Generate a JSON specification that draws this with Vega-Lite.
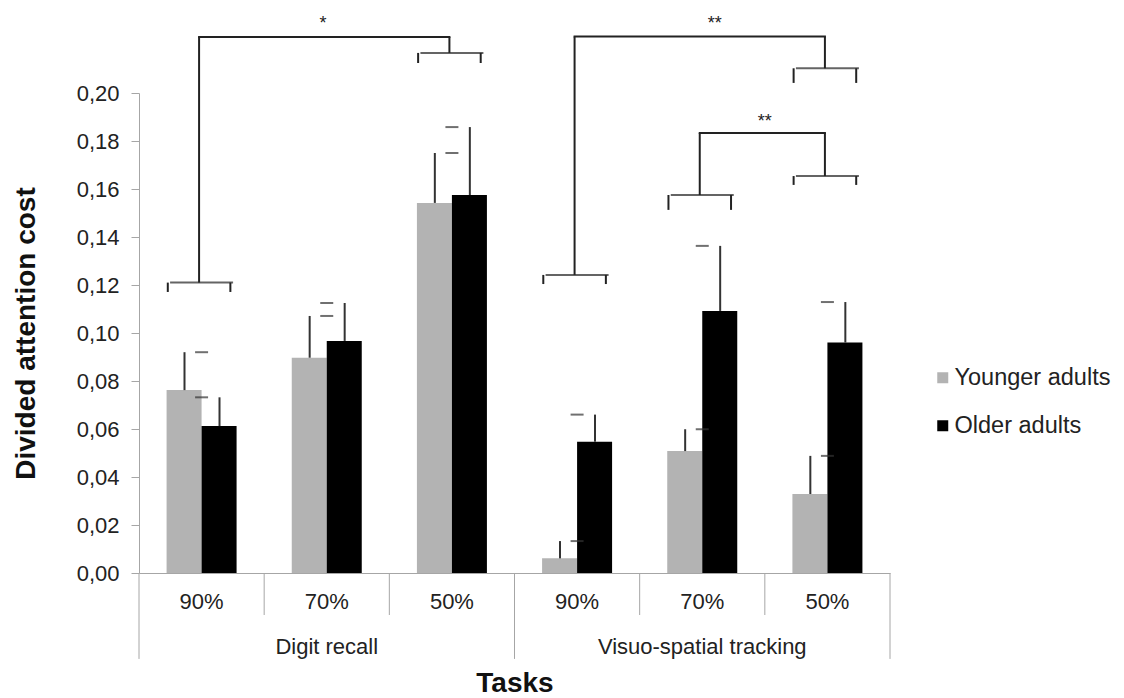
{
  "$schema": "https://vega.github.io/schema/vega-lite/v6.json",
  "width": 751,
  "height": 480,
  "padding": {"left": 12, "top": 14, "right": 5, "bottom": 5},
  "background": "white",
  "config": {
    "font": "Liberation Sans",
    "view": {"stroke": null},
    "axis": {"grid": false},
    "locale": {"number": {"decimal": ",", "thousands": ".", "grouping": [3], "currency": ["", " €"]}}
  },
  "datasets": {
    "costs": [
      {"condition": "Digit recall 90%", "group": "Younger adults", "value": 0.0762, "hi": 0.0920},
      {"condition": "Digit recall 90%", "group": "Older adults", "value": 0.0612, "hi": 0.0732},
      {"condition": "Digit recall 70%", "group": "Younger adults", "value": 0.0897, "hi": 0.1071},
      {"condition": "Digit recall 70%", "group": "Older adults", "value": 0.0967, "hi": 0.1125},
      {"condition": "Digit recall 50%", "group": "Younger adults", "value": 0.1542, "hi": 0.1750},
      {"condition": "Digit recall 50%", "group": "Older adults", "value": 0.1575, "hi": 0.1858},
      {"condition": "Visuo-spatial tracking 90%", "group": "Younger adults", "value": 0.0061, "hi": 0.0133},
      {"condition": "Visuo-spatial tracking 90%", "group": "Older adults", "value": 0.0547, "hi": 0.0660},
      {"condition": "Visuo-spatial tracking 70%", "group": "Younger adults", "value": 0.0508, "hi": 0.0599},
      {"condition": "Visuo-spatial tracking 70%", "group": "Older adults", "value": 0.1092, "hi": 0.1363},
      {"condition": "Visuo-spatial tracking 50%", "group": "Younger adults", "value": 0.0329, "hi": 0.0488},
      {"condition": "Visuo-spatial tracking 50%", "group": "Older adults", "value": 0.0960, "hi": 0.1129}
    ],
    "spans": [
      {"link": 1, "condition": "Digit recall 90%", "level": 0.1210, "foot": 0.1171, "top": 0.2233},
      {"link": 1, "condition": "Digit recall 50%", "level": 0.2167, "foot": 0.2125, "top": 0.2233},
      {"link": 2, "condition": "Visuo-spatial tracking 90%", "level": 0.1242, "foot": 0.1204, "top": 0.2235},
      {"link": 2, "condition": "Visuo-spatial tracking 50%", "level": 0.2103, "foot": 0.2042, "top": 0.2235},
      {"link": 3, "condition": "Visuo-spatial tracking 70%", "level": 0.1575, "foot": 0.1513, "top": 0.1833},
      {"link": 3, "condition": "Visuo-spatial tracking 50%", "level": 0.1654, "foot": 0.1617, "top": 0.1833}
    ],
    "links": [
      {"link": 1, "over": "Digit recall 70%", "starAt": 0.2268, "stars": "*"},
      {"link": 2, "over": "Visuo-spatial tracking 70%", "starAt": 0.2268, "stars": "**"},
      {"link": 3, "over": "Visuo-spatial tracking 70%", "starAt": 0.1858, "stars": "**"}
    ],
    "tasks": [
      {"task": "Digit recall", "condition": "Digit recall 70%"},
      {"task": "Visuo-spatial tracking", "condition": "Visuo-spatial tracking 70%"}
    ],
    "dividers": [
      {"condition": "Digit recall 90%", "reach": -0.0358},
      {"condition": "Digit recall 70%", "reach": -0.0175},
      {"condition": "Digit recall 50%", "reach": -0.0175},
      {"condition": "Visuo-spatial tracking 90%", "reach": -0.0358},
      {"condition": "Visuo-spatial tracking 70%", "reach": -0.0175},
      {"condition": "Visuo-spatial tracking 50%", "reach": -0.0175}
    ],
    "closing": [
      {"condition": "Visuo-spatial tracking 50%", "reach": -0.0358}
    ]
  },
  "layer": [
    {
      "data": {"name": "costs"},
      "mark": {"type": "bar"},
      "encoding": {
        "x": {
          "field": "condition", "type": "nominal",
          "scale": {
            "domain": ["Digit recall 90%", "Digit recall 70%", "Digit recall 50%", "Visuo-spatial tracking 90%", "Visuo-spatial tracking 70%", "Visuo-spatial tracking 50%"],
            "paddingInner": 0, "paddingOuter": 0
          },
          "axis": {
            "title": "Tasks", "titleFontSize": 28, "titleFontWeight": "bold", "titleColor": "#111111", "titlePadding": 57,
            "labelExpr": "slice(datum.value, -3)", "labelAngle": 0, "labelFontSize": 22, "labelColor": "#222222", "labelPadding": 18,
            "ticks": false, "tickSize": 0,
            "domainColor": "#a6a6a6"
          }
        },
        "xOffset": {
          "field": "group", "type": "nominal",
          "scale": {"domain": ["Younger adults", "Older adults"], "paddingInner": 0, "paddingOuter": 0.788}
        },
        "y": {
          "field": "value", "type": "quantitative",
          "scale": {"domain": [0, 0.2], "nice": false},
          "axis": {
            "title": "Divided attention cost", "titleFontSize": 28, "titleFontWeight": "bold", "titleColor": "#111111", "titlePadding": 36,
            "values": [0, 0.02, 0.04, 0.06, 0.08, 0.1, 0.12, 0.14, 0.16, 0.18, 0.2],
            "format": ".2f",
            "labelFontSize": 22, "labelColor": "#222222", "labelPadding": 12,
            "tickSize": 8, "tickColor": "#a6a6a6",
            "domainColor": "#a6a6a6"
          }
        },
        "color": {
          "field": "group", "type": "nominal",
          "scale": {"domain": ["Younger adults", "Older adults"], "range": ["#b3b3b3", "#000000"]},
          "legend": {
            "title": null, "orient": "none", "legendX": 792, "legendY": 273,
            "symbolType": "square", "symbolSize": 121,
            "labelFontSize": 23.5, "labelColor": "#222222", "labelOffset": 0, "rowPadding": 23
          }
        }
      }
    },
    {
      "data": {"name": "costs"},
      "transform": [{"filter": "datum.group == 'Younger adults'"}],
      "mark": {"type": "rule", "color": "#333333", "strokeWidth": 2},
      "encoding": {
        "x": {"field": "condition", "type": "nominal", "bandPosition": 0.3635},
        "y": {"field": "value", "type": "quantitative"},
        "y2": {"field": "hi"}
      }
    },
    {
      "data": {"name": "costs"},
      "transform": [{"filter": "datum.group == 'Younger adults'"}],
      "mark": {"type": "tick", "color": "#333333", "thickness": 2, "size": 13, "orient": "horizontal"},
      "encoding": {
        "x": {"field": "condition", "type": "nominal", "bandPosition": 0.3635},
        "y": {"field": "hi", "type": "quantitative"}
      }
    },
    {
      "data": {"name": "costs"},
      "transform": [{"filter": "datum.group == 'Older adults'"}],
      "mark": {"type": "rule", "color": "#333333", "strokeWidth": 2},
      "encoding": {
        "x": {"field": "condition", "type": "nominal", "bandPosition": 0.6432},
        "y": {"field": "value", "type": "quantitative"},
        "y2": {"field": "hi"}
      }
    },
    {
      "data": {"name": "costs"},
      "transform": [{"filter": "datum.group == 'Older adults'"}],
      "mark": {"type": "tick", "color": "#333333", "thickness": 2, "size": 13, "orient": "horizontal"},
      "encoding": {
        "x": {"field": "condition", "type": "nominal", "bandPosition": 0.6432},
        "y": {"field": "hi", "type": "quantitative"}
      }
    },
    {
      "data": {"name": "dividers"},
      "mark": {"type": "rule", "color": "#a6a6a6", "strokeWidth": 1},
      "encoding": {
        "x": {"field": "condition", "type": "nominal", "bandPosition": 0},
        "y": {"field": "reach", "type": "quantitative"},
        "y2": {"datum": 0}
      }
    },
    {
      "data": {"name": "closing"},
      "mark": {"type": "rule", "color": "#a6a6a6", "strokeWidth": 1},
      "encoding": {
        "x": {"field": "condition", "type": "nominal", "bandPosition": 1},
        "y": {"field": "reach", "type": "quantitative"},
        "y2": {"datum": 0}
      }
    },
    {
      "data": {"name": "tasks"},
      "mark": {"type": "text", "fontSize": 22, "color": "#222222", "baseline": "middle"},
      "encoding": {
        "x": {"field": "condition", "type": "nominal"},
        "y": {"datum": -0.0308, "type": "quantitative"},
        "text": {"field": "task"}
      }
    },
    {
      "data": {"name": "spans"},
      "mark": {"type": "tick", "color": "#222222", "thickness": 2, "size": 63, "orient": "horizontal"},
      "encoding": {
        "x": {"field": "condition", "type": "nominal", "bandPosition": 0.48},
        "y": {"field": "level", "type": "quantitative"}
      }
    },
    {
      "data": {"name": "spans"},
      "mark": {"type": "rule", "color": "#222222", "strokeWidth": 2},
      "encoding": {
        "x": {"field": "condition", "type": "nominal", "bandPosition": 0.23},
        "y": {"field": "foot", "type": "quantitative"},
        "y2": {"field": "level"}
      }
    },
    {
      "data": {"name": "spans"},
      "mark": {"type": "rule", "color": "#222222", "strokeWidth": 2},
      "encoding": {
        "x": {"field": "condition", "type": "nominal", "bandPosition": 0.73},
        "y": {"field": "foot", "type": "quantitative"},
        "y2": {"field": "level"}
      }
    },
    {
      "data": {"name": "spans"},
      "mark": {"type": "rule", "color": "#222222", "strokeWidth": 2},
      "encoding": {
        "x": {"field": "condition", "type": "nominal", "bandPosition": 0.48},
        "y": {"field": "level", "type": "quantitative"},
        "y2": {"field": "top"}
      }
    },
    {
      "data": {"name": "spans"},
      "mark": {"type": "line", "color": "#222222", "strokeWidth": 2, "strokeCap": "square"},
      "encoding": {
        "x": {"field": "condition", "type": "nominal", "bandPosition": 0.48},
        "y": {"field": "top", "type": "quantitative"},
        "detail": {"field": "link", "type": "nominal"}
      }
    },
    {
      "data": {"name": "links"},
      "transform": [{"filter": "datum.link == 1"}],
      "mark": {"type": "text", "fontSize": 18, "color": "#222222", "baseline": "alphabetic"},
      "encoding": {
        "x": {"field": "over", "type": "nominal", "bandPosition": 0.47},
        "y": {"field": "starAt", "type": "quantitative"},
        "text": {"field": "stars"}
      }
    },
    {
      "data": {"name": "links"},
      "transform": [{"filter": "datum.link == 2"}],
      "mark": {"type": "text", "fontSize": 18, "color": "#222222", "baseline": "alphabetic"},
      "encoding": {
        "x": {"field": "over", "type": "nominal", "bandPosition": 0.6},
        "y": {"field": "starAt", "type": "quantitative"},
        "text": {"field": "stars"}
      }
    },
    {
      "data": {"name": "links"},
      "transform": [{"filter": "datum.link == 3"}],
      "mark": {"type": "text", "fontSize": 18, "color": "#222222", "baseline": "alphabetic"},
      "encoding": {
        "x": {"field": "over", "type": "nominal", "bandPosition": 1},
        "y": {"field": "starAt", "type": "quantitative"},
        "text": {"field": "stars"}
      }
    }
  ]
}
